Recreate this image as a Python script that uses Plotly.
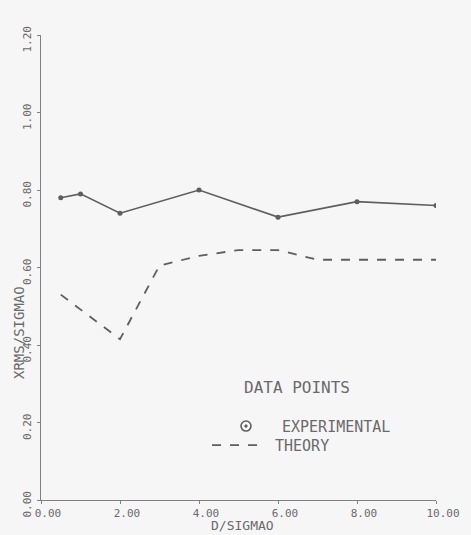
import plotly.graph_objects as go

# Experimental points (solid line with markers)
exp_x = [0.5, 1.0, 2.0, 4.0, 6.0, 8.0, 10.0]
exp_y = [0.78, 0.79, 0.74, 0.80, 0.73, 0.77, 0.76]

# Theory curve (dashed)
theory_x = [0.5, 2.0, 3.0, 4.0, 5.0, 6.0, 7.0, 8.0, 10.0]
theory_y = [0.53, 0.415, 0.605, 0.63, 0.645, 0.645, 0.62, 0.62, 0.62]

x_ticks = [0, 2, 4, 6, 8, 10]
x_tick_labels = ["0.00", "2.00", "4.00", "6.00", "8.00", "10.00"]
y_ticks = [0.0, 0.2, 0.4, 0.6, 0.8, 1.0, 1.2]
y_tick_labels = ["0.00", "0.20", "0.40", "0.60", "0.80", "1.00", "1.20"]

INK = "#5e5e5e"
TXT = "#6a6a6a"
FONT = "DejaVu Sans Mono"

fig = go.Figure()
fig.add_trace(go.Scatter(
    x=exp_x, y=exp_y, mode="lines+markers",
    line=dict(color=INK, width=1.6),
    marker=dict(color=INK, size=5, symbol="circle"),
    showlegend=False,
))
fig.add_trace(go.Scatter(
    x=theory_x, y=theory_y, mode="lines",
    line=dict(color=INK, width=1.8, dash="dash"),
    showlegend=False,
))

fig.update_layout(
    width=471, height=535,
    margin=dict(l=41, r=35, t=35, b=35),
    paper_bgcolor="#f6f6f6", plot_bgcolor="#f6f6f6",
    font=dict(family=FONT, color=TXT, size=11),
    xaxis=dict(
        range=[0, 10], tickvals=x_ticks, ticktext=x_tick_labels,
        showgrid=False, zeroline=False, showline=True, linecolor="#808080",
        linewidth=1, ticks="outside", ticklen=3, tickcolor="#808080",
        ticklabelshift=7, ticklabelstandoff=0,
        tickfont=dict(family=FONT, size=11, color=TXT),
    ),
    yaxis=dict(
        range=[0, 1.2], tickvals=y_ticks, ticktext=y_tick_labels,
        showgrid=False, zeroline=False, showline=True, linecolor="#808080",
        linewidth=1, ticks="outside", ticklen=3, tickcolor="#808080",
        tickangle=-90, ticklabelshift=6, ticklabelstandoff=2,
        tickfont=dict(family=FONT, size=11, color=TXT),
    ),
)


def label(text, x, y, size=16, angle=0):
    fig.add_annotation(text=text, xref="paper", yref="paper", x=x, y=y,
                       xanchor="center", yanchor="middle", textangle=angle,
                       showarrow=False, font=dict(family=FONT, size=size, color=TXT))


# Axis titles
label("D/SIGMAO", 0.511, -0.054, size=13)
label("XRMS/SIGMAO", -0.056, 0.361, size=14, angle=-90)

# Key
label("DATA POINTS", 0.648, 0.241)
label("EXPERIMENTAL", 0.748, 0.158, size=15)
label("THEORY", 0.662, 0.117, size=15)
fig.add_shape(type="circle", xref="paper", yref="paper", xsizemode="pixel", ysizemode="pixel",
              xanchor=0.519, yanchor=0.159, x0=-5, x1=5, y0=-5, y1=5,
              line=dict(color=INK, width=1.6))
fig.add_shape(type="circle", xref="paper", yref="paper", xsizemode="pixel", ysizemode="pixel",
              xanchor=0.519, yanchor=0.159, x0=-1.2, x1=1.2, y0=-1.2, y1=1.2,
              line=dict(color=INK, width=1), fillcolor=INK)
fig.add_shape(type="line", xref="paper", yref="paper", x0=0.433, x1=0.549, y0=0.118, y1=0.118,
              line=dict(color=INK, width=1.8, dash="dash"))

fig.write_html("out.html")
